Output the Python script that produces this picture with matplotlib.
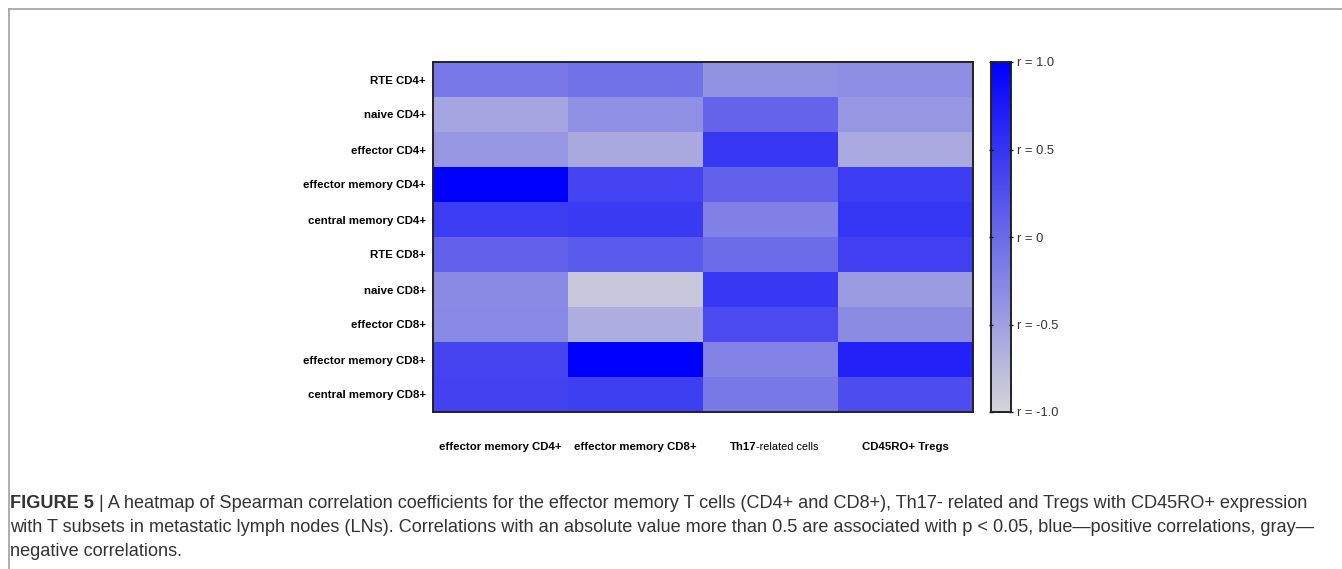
import numpy as np
import matplotlib
matplotlib.use("Agg")
import matplotlib.pyplot as plt
from matplotlib.colors import LinearSegmentedColormap
from matplotlib.lines import Line2D

# T subsets (rows) and the four groups they are correlated with (columns)
row_labels = ["RTE CD4+", "naive CD4+", "effector CD4+", "effector memory CD4+",
              "central memory CD4+", "RTE CD8+", "naive CD8+", "effector CD8+",
              "effector memory CD8+", "central memory CD8+"]
col_labels = ["effector memory CD4+", "effector memory CD8+", "Th17-related cells", "CD45RO+ Tregs"]

# Spearman r, one list per column
r_em_cd4 = [-0.11, -0.54, -0.40, 1.00, 0.44, 0.10, -0.29, -0.27, 0.36, 0.38]
r_em_cd8 = [-0.07, -0.34, -0.58, 0.37, 0.46, 0.16, -0.86, -0.62, 1.00, 0.41]
r_th17 = [-0.37, 0.07, 0.48, 0.10, -0.20, -0.01, 0.48, 0.31, -0.22, -0.12]
r_tregs = [-0.33, -0.42, -0.59, 0.44, 0.50, 0.40, -0.45, -0.30, 0.68, 0.28]

cbar_ticks = [-1.0, -0.5, 0, 0.5, 1.0]
cbar_labels = ["r = -1.0", "r = -0.5", "r = 0", "r = 0.5", "r = 1.0"]

caption_head = "FIGURE 5"
caption_lines = [
    " | A heatmap of Spearman correlation coefficients for the effector memory T cells (CD4+ and CD8+), Th17- related and Tregs with CD45RO+ expression",
    "with T subsets in metastatic lymph nodes (LNs). Correlations with an absolute value more than 0.5 are associated with p < 0.05, blue\u2014positive correlations, gray\u2014",
    "negative correlations.",
]

plt.rcParams["font.family"] = ["Liberation Sans", "DejaVu Sans"]

W, H = 1342, 569
fig = plt.figure(figsize=(W / 100, H / 100), dpi=100)


def fx(px):
    return px / W


def fy(py):
    return 1 - py / H


# gray -> blue map
cmap = LinearSegmentedColormap.from_list(
    "gray_blue", [(0.0, "#d5d5da"), (0.5, "#6b6be9"), (1.0, "#0000ff")])

data = np.array([r_em_cd4, r_em_cd8, r_th17, r_tregs]).T

ax = fig.add_axes([fx(433), fy(412), fx(973) - fx(433), fy(62) - fy(412)])
ax.pcolormesh(np.arange(len(col_labels) + 1), np.arange(len(row_labels) + 1), data,
              cmap=cmap, vmin=-1, vmax=1)
ax.set_xlim(0, len(col_labels))
ax.set_ylim(len(row_labels), 0)
ax.set_xticks([])
ax.set_yticks(np.arange(len(row_labels)) + 0.5)
ax.set_yticklabels(row_labels, fontsize=8.2, fontweight="bold")
ax.tick_params(axis="y", length=0, pad=5)
for s in ax.spines.values():
    s.set_linewidth(1.4)
    s.set_color("#222222")

# column labels under the heatmap
label_y = fy(447)
for i, lab in enumerate(col_labels):
    xc = fx(433) + (i + 0.5) * (fx(973) - fx(433)) / len(col_labels)
    if lab.startswith("Th17"):
        fig.text(xc - fx(14), label_y, "Th17", ha="right", va="center",
                 fontsize=8.2, fontweight="bold")
        fig.text(xc - fx(14), label_y, lab[4:], ha="left", va="center", fontsize=7.8)
    else:
        fig.text(xc, label_y, lab, ha="center", va="center",
                 fontsize=8.2, fontweight="bold")

# colorbar
cax = fig.add_axes([fx(991), fy(412), fx(1011) - fx(991), fy(62) - fy(412)])
grad = np.linspace(-1, 1, 256).reshape(-1, 1)
cax.imshow(grad, cmap=cmap, vmin=-1, vmax=1, aspect="auto", origin="lower",
           extent=[0, 1, -1, 1])
cax.set_xticks([])
cax.yaxis.tick_right()
cax.set_yticks(cbar_ticks)
cax.set_yticklabels(cbar_labels, fontsize=9.3, color="#333333")
cax.tick_params(axis="y", length=3, width=1, direction="inout", pad=3, left=True)
for s in cax.spines.values():
    s.set_linewidth(1.4)
    s.set_color("#222222")

# open frame around the figure
fig.add_artist(Line2D([fx(9), 1.0], [fy(9), fy(9)], color="#a0a0a0", lw=1.2))
fig.add_artist(Line2D([fx(9), fx(9)], [fy(9), 0.0], color="#a0a0a0", lw=1.2))

# caption
cap_kw = dict(fontsize=13.1, color="#333333", va="center")
head = fig.text(fx(10), fy(503), caption_head, fontweight="bold", **cap_kw)
ax.annotate(caption_lines[0], xy=(1, 0.5), xycoords=head, ha="left",
            annotation_clip=False, **cap_kw)
fig.text(fx(10), fy(527), caption_lines[1], **cap_kw)
fig.text(fx(10), fy(551), caption_lines[2], **cap_kw)

fig.savefig("out.png", dpi=100)
